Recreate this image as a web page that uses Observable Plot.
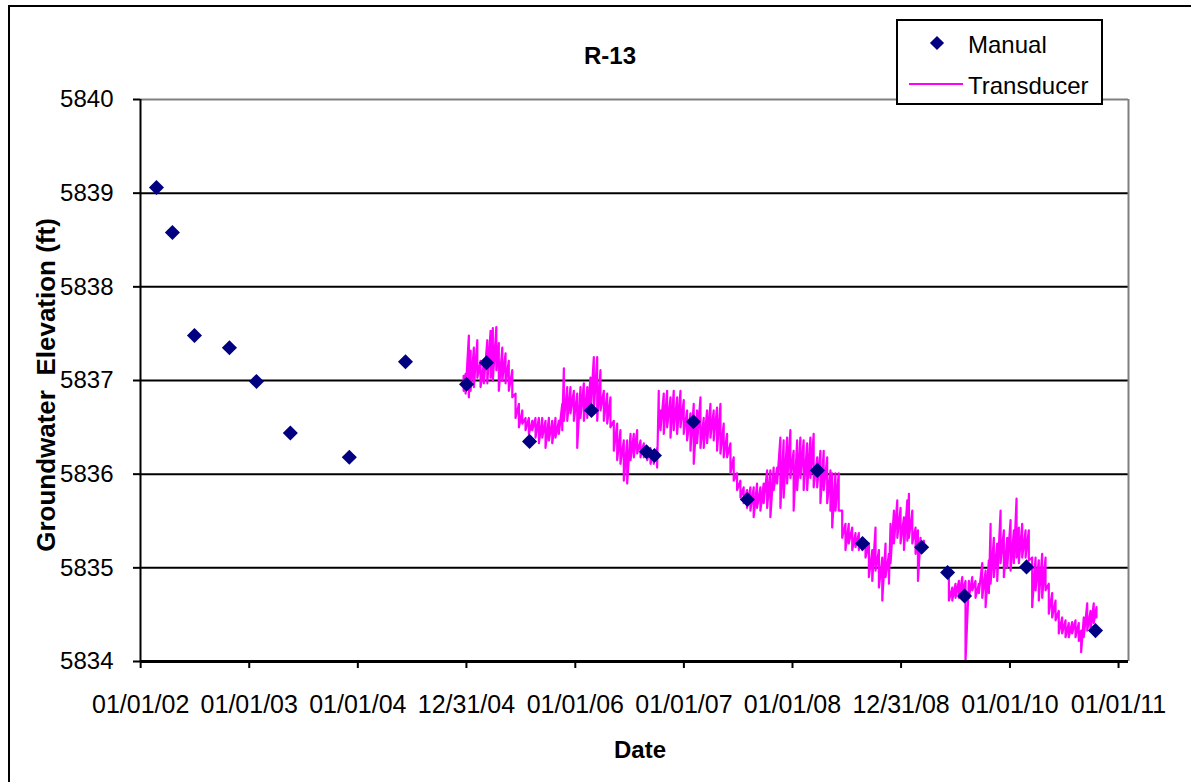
<!DOCTYPE html>
<html><head><meta charset="utf-8">
<script src="https://cdn.jsdelivr.net/npm/d3@7"></script>
<script src="https://cdn.jsdelivr.net/npm/@observablehq/plot@0.6"></script>
<style>
html,body{margin:0;padding:0;background:#fff;overflow:hidden;}
#chart{position:relative;width:1191px;height:782px;overflow:hidden;font-family:"Liberation Sans",Arial,sans-serif;color:#000;}
#border{position:absolute;left:8px;top:5px;width:1400px;height:1000px;border:2px solid #000;}
#plot{position:absolute;left:0;top:0;}
.t{position:absolute;white-space:pre;color:#000;line-height:1;}
#title{left:560px;top:44px;width:100px;text-align:center;font-weight:bold;font-size:24px;}
#xtitle{left:590px;top:738px;width:100px;text-align:center;font-weight:bold;font-size:24px;}
#ytitle{left:46px;top:385px;font-weight:bold;font-size:26px;transform:translate(-50%,-50%) rotate(-90deg);}
#legend{position:absolute;left:896px;top:19px;width:203px;height:82px;border:2px solid #000;background:#fff;}
#legend .sw1{position:absolute;left:34px;top:17px;width:10px;height:10px;background:#000080;transform:rotate(45deg);}
#legend .sw2{position:absolute;left:11px;top:62px;width:54px;height:2px;background:#FF00FF;}
#legend .l1{position:absolute;left:70px;top:12px;font-size:24px;}
#legend .l2{position:absolute;left:70px;top:53px;font-size:24px;}
</style></head>
<body>
<div id="chart">
  <div id="border"></div>
  <div id="plot"></div>
  <div class="t" id="title">R-13</div>
  <div class="t" id="xtitle">Date</div>
  <div class="t" id="ytitle">Groundwater  Elevation (ft)</div>
  <div id="legend"><div class="sw1"></div><div class="t l1">Manual</div><div class="sw2"></div><div class="t l2">Transducer</div></div>
</div>
<script>
// Manual measurements (decimal year, elevation ft)
const manualYear = [2002.147,2002.294,2002.497,2002.819,2003.068,2003.380,2003.923,2004.439,2005.000,2005.184,2005.580,2006.150,2006.657,2006.730,2007.089,2007.586,2008.230,2008.645,2009.188,2009.427,2009.583,2010.154,2010.789];
const manualLevel = [5839.06,5838.58,5837.48,5837.35,5836.99,5836.44,5836.18,5837.20,5836.96,5837.19,5836.35,5836.68,5836.24,5836.20,5836.56,5835.73,5836.04,5835.26,5835.22,5834.95,5834.70,5835.01,5834.33];

// Transducer record: per time step, upper and lower readings (null = data gap)
const transYear = [2004.973,2004.991,2005.021,2005.037,2005.067,2005.099,2005.129,2005.159,2005.191,2005.221,2005.242,2005.274,2005.297,2005.329,2005.359,2005.389,2005.421,2005.451,2005.482,2005.513,2005.543,2005.574,2005.605,2005.635,2005.666,2005.697,2005.727,2005.758,2005.789,2005.819,2005.850,2005.881,2005.896,2005.927,2005.957,2005.988,2006.019,2006.049,2006.080,2006.111,2006.141,2006.172,2006.203,2006.233,2006.264,2006.295,2006.325,2006.356,2006.387,2006.417,2006.448,2006.479,2006.510,2006.540,2006.571,2006.602,2006.632,2006.663,2006.694,2006.724,2006.755,2006.770,2006.786,2006.816,2006.847,2006.878,2006.908,2006.939,2006.970,2007.000,2007.031,2007.062,2007.092,2007.123,2007.154,2007.184,2007.215,2007.246,2007.276,2007.307,2007.338,2007.368,2007.399,2007.430,2007.460,2007.491,2007.522,2007.552,2007.583,2007.614,2007.644,2007.675,2007.706,2007.736,2007.768,2007.798,2007.828,2007.860,2007.890,2007.920,2007.952,2007.982,2008.012,2008.044,2008.074,2008.104,2008.136,2008.166,2008.196,2008.228,2008.258,2008.288,2008.320,2008.350,2008.366,2008.396,2008.426,2008.458,2008.488,2008.518,2008.550,2008.580,2008.611,2008.642,2008.672,2008.703,2008.734,2008.764,2008.795,2008.826,2008.856,2008.887,2008.902,2008.933,2008.964,2008.994,2009.025,2009.056,2009.071,2009.102,2009.132,2009.154,2009.178,2009.209,
2009.300,
2009.439,2009.470,2009.500,2009.531,2009.562,2009.592,2009.623,2009.654,2009.684,2009.715,2009.746,2009.777,2009.807,2009.823,2009.853,2009.884,2009.915,2009.945,2009.976,2010.007,2010.037,2010.062,2010.083,2010.114,2010.145,2010.175,2010.206,2010.237,2010.267,2010.298,2010.329,2010.359,2010.390,2010.421,2010.451,2010.482,2010.513,2010.543,2010.574,2010.605,2010.635,2010.657,2010.681,2010.713,2010.743,2010.773,2010.798];
const transHigh = [5837.05,5837.07,5837.48,5837.32,5837.35,5837.43,5837.21,5837.18,5837.43,5837.53,5837.56,5837.57,5837.40,5837.35,5837.29,5837.21,5837.11,5836.86,5836.75,5836.68,5836.60,5836.60,5836.57,5836.60,5836.60,5836.60,5836.57,5836.60,5836.57,5836.60,5836.57,5836.75,5837.13,5836.93,5836.93,5836.89,5836.86,5836.93,5836.97,5836.93,5837.03,5837.25,5837.25,5837.11,5836.89,5836.86,5836.82,5836.57,5836.54,5836.47,5836.36,5836.36,5836.43,5836.43,5836.47,5836.36,5836.33,5836.28,5836.28,5836.25,5836.28,5836.89,5836.68,5836.86,5836.89,5836.82,5836.89,5836.82,5836.89,5836.79,5836.68,5836.65,5836.75,5836.68,5836.82,5836.60,5836.68,5836.75,5836.68,5836.71,5836.75,5836.54,5836.43,5836.33,5836.18,5836.01,5835.93,5835.86,5835.83,5835.86,5835.86,5835.90,5835.86,5835.90,5836.04,5836.04,5836.07,5836.07,5836.39,5836.36,5836.39,5836.47,5836.25,5836.36,5836.39,5836.36,5836.33,5836.39,5836.43,5836.18,5836.25,5836.25,5836.18,5836.04,5836.01,5836.01,5836.01,5835.61,5835.47,5835.47,5835.43,5835.37,5835.37,5835.32,5835.29,5835.26,5835.19,5835.43,5835.19,5835.11,5835.26,5835.15,5835.47,5835.61,5835.72,5835.64,5835.54,5835.72,5835.79,5835.61,5835.43,5835.40,5835.32,5835.29,
null,
5834.94,5834.79,5834.83,5834.86,5834.90,5834.86,5834.86,5834.90,5834.86,5834.83,5835.05,5834.97,5835.08,5835.47,5835.32,5835.26,5835.61,5835.40,5835.32,5835.51,5835.40,5835.74,5835.43,5835.47,5835.40,5835.40,5835.11,5835.11,5835.08,5835.15,5835.11,5834.83,5834.73,5834.65,5834.54,5834.47,5834.44,5834.41,5834.42,5834.44,5834.41,5834.33,5834.47,5834.62,5834.54,5834.62,5834.58];
const transLow = [5836.89,5836.86,5836.82,5836.89,5836.93,5837.03,5836.93,5836.97,5836.97,5837.03,5837.00,5837.11,5836.89,5837.00,5836.97,5836.89,5836.82,5836.60,5836.50,5836.54,5836.47,5836.43,5836.47,5836.39,5836.33,5836.39,5836.28,5836.36,5836.33,5836.39,5836.43,5836.47,5836.57,5836.57,5836.65,5836.57,5836.28,5836.60,5836.57,5836.60,5836.65,5836.68,5836.57,5836.68,5836.57,5836.54,5836.50,5836.25,5836.15,5836.11,5835.93,5835.90,5836.15,5836.18,5836.22,5836.18,5836.18,5836.15,5836.11,5836.11,5836.07,5836.50,5836.47,5836.43,5836.50,5836.39,5836.47,5836.43,5836.50,5836.43,5836.36,5836.25,5836.11,5836.33,5836.28,5836.28,5836.33,5836.39,5836.36,5836.25,5836.22,5836.18,5836.18,5836.01,5835.93,5835.83,5835.75,5835.69,5835.64,5835.61,5835.54,5835.64,5835.61,5835.69,5835.64,5835.54,5835.83,5835.90,5835.64,5835.75,5835.90,5835.96,5835.61,5835.83,5835.96,5835.83,5835.83,5835.96,5835.86,5835.86,5835.69,5835.83,5835.69,5835.61,5835.43,5835.61,5835.61,5835.32,5835.19,5835.26,5835.19,5835.22,5835.19,5835.19,5835.11,5834.90,5834.86,5834.97,5834.79,5834.65,5834.90,5834.83,5835.05,5835.26,5835.32,5835.26,5835.19,5835.29,5835.32,5835.26,5835.15,5834.86,5835.19,5835.19,
null,
5834.65,5834.65,5834.68,5834.68,5834.73,5834.00,5834.68,5834.76,5834.68,5834.73,5834.68,5834.58,5834.73,5834.83,5834.90,5834.86,5835.05,5834.90,5835.00,5834.97,5835.05,5835.11,5835.05,5835.11,5835.11,5835.08,5834.58,5834.76,5834.65,5834.68,5834.76,5834.51,5834.47,5834.44,5834.30,5834.30,5834.26,5834.26,5834.30,5834.26,5834.22,5834.10,5834.26,5834.33,5834.33,5834.41,5834.47];

// Axes
const xDomainYears = [2002.0, 2011.093];
const xTickDates = ["2002-01-01","2003-01-01","2004-01-01","2004-12-31","2006-01-01","2007-01-01","2008-01-01","2008-12-31","2010-01-01","2011-01-01"];
const yTicks = [5834,5835,5836,5837,5838,5839,5840];
const gridLevels = [5835,5836,5837,5838,5839];

const toDate = y => { const yr = Math.floor(y); const a = Date.UTC(yr,0,1), b = Date.UTC(yr+1,0,1); return new Date(a + (y-yr)*(b-a)); };

const manual = manualYear.map((y,i)=>({date:toDate(y), level:manualLevel[i]}));
const transducer = [];
transYear.forEach((y,i)=>{ const d = toDate(y); transducer.push({date:d, level:transHigh[i]}); transducer.push({date:d, level:transLow[i]}); });
const xmin = toDate(xDomainYears[0]), xmax = toDate(xDomainYears[1]);
const ticks = xTickDates.map(s => new Date(s + "T12:00:00Z"));

const chart = Plot.plot({
  width:1191, height:782,
  marginLeft:140, marginRight:63, marginTop:99, marginBottom:121,
  style:{background:"transparent", fontFamily:"'Liberation Sans', Arial, sans-serif", fontSize:"24px", color:"#000"},
  x:{type:"utc", domain:[xmin,xmax], label:null},
  y:{domain:[5834,5840], label:null},
  marks:[
    Plot.ruleY(gridLevels, {stroke:"#000", strokeWidth:2}),
    Plot.ruleY([5840], {stroke:"#808080", strokeWidth:2}),
    Plot.ruleX([xmax], {stroke:"#808080", strokeWidth:2}),
    Plot.line(transducer, {x:"date", y:"level", stroke:"#FF00FF", strokeWidth:2.2}),
    Plot.ruleX([xmin], {stroke:"#000", strokeWidth:2}),
    Plot.ruleY([5834], {stroke:"#000", strokeWidth:3}),
    Plot.axisX({ticks, tickFormat:d3.utcFormat("%m/%d/%y"), tickSize:7, tickPadding:27, stroke:"#000", strokeWidth:2, strokeOpacity:1, label:null, fontSize:25}),
    Plot.axisY({ticks:yTicks, tickFormat:d=>String(d), tickSize:7, tickPadding:20, stroke:"#000", strokeWidth:2, strokeOpacity:1, label:null, fontSize:24}),
    Plot.dot(manual, {x:"date", y:"level", symbol:"diamond2", r:6.8, fill:"#000080", stroke:"none"})
  ]
});
document.getElementById("plot").appendChild(chart);
</script>
</body></html>
